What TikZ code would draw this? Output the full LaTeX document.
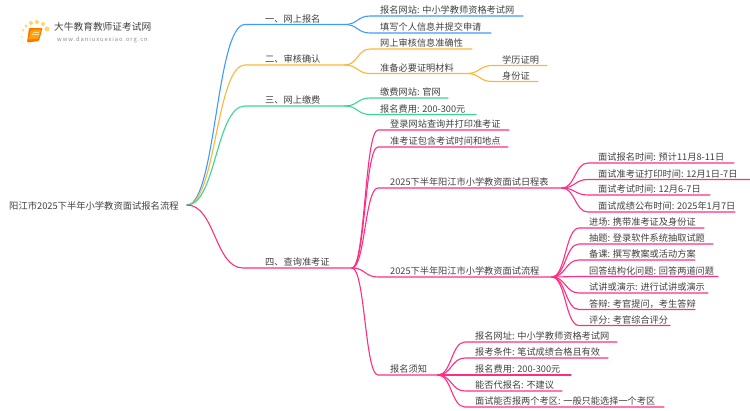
\documentclass[tikz,border=0pt]{standalone}
\usepackage{fontspec}
\setmainfont{Noto Sans CJK SC}
\usetikzlibrary{calc}
\definecolor{cblue}{HTML}{3D9BFF}
\definecolor{corange}{HTML}{FFB535}
\definecolor{cgreen}{HTML}{3CD690}
\definecolor{cpink}{HTML}{FF2E82}
\definecolor{ctext}{HTML}{404040}
\definecolor{cdot}{HTML}{FFD469}
\tikzset{
  lbl/.style={anchor=base west,inner sep=0pt,text=ctext,font=\fontsize{9.2}{11}\selectfont},
  conn/.style={line width=1.1pt,line cap=round},
  dotmark/.style={fill=cdot,draw=none}
}
% name, parent, colour, x curve end, x line end, y line, x text, text
\newcommand{\bran}[8]{%
  \coordinate (#1-in) at (#4,#6);
  \coordinate (#1-out) at (#5,#6);
  \coordinate (#1-mid) at ($(#2-out)!.5!(#1-in)$);
  \node[lbl,yshift=2.5pt] (#1) at (#7,#6) {#8};
  \draw[conn,#3] (#2-out) .. controls (#2-out -| #1-mid) and (#1-in -| #1-mid) .. (#1-in) -- (#1-out);
}
\begin{document}
\begin{tikzpicture}[x=1pt,y=-1pt]
\useasboundingbox (0,0) rectangle (750,410);
\clip (0,0) rectangle (750,410);
% logo
\foreach \px/\py/\pr/\po in {47/29/2.4/1,43/24/2/1,37/22/2/1,31/23/2/1,26/26/1.7/.9,23/30/1.5/.8,22/37/1.2/.6,23/42/1/.35}
  \fill[dotmark,opacity=\po] (\px,\py) circle (\pr);
\fill[orange!90!red,rounded corners=1pt] (29,28) -- (42.5,28) -- (39,41) -- (27,42.5) -- cycle;
\fill[orange!70!yellow] (31,29.5) -- (41,29.5) -- (38.5,38.5) -- (28.5,39.5) -- cycle;
\draw[white,opacity=.6,line width=.5pt] (32.5,32) -- (39,32) (32,34.5) -- (38.5,34.5);
\node[anchor=base west,inner sep=0pt,text=ctext,font=\fontsize{9.7}{12}\selectfont] (brand) at (54,30.5) {大牛教育教师证考试网};
\node[anchor=base west,inner sep=0pt,text=black!45,font=\fontsize{5.8}{7}\selectfont] (url) at (57,41.3) {\addfontfeature{LetterSpace=16}www.daniuxuexiao.org.cn};
% root
\node[lbl,font=\fontsize{9.3}{11}\selectfont] (root) at (9,209) {阳江市2025下半年小学教资面试报名流程};
\coordinate (root-out) at (187,205);
% level 1
\bran{a}{root}{cblue}{245}{345}{24.5}{265}{一、网上报名}
\bran{b}{root}{corange}{245}{345}{65}{265}{二、审核确认}
\bran{c}{root}{cgreen}{245}{345}{106}{265}{三、网上缴费}
\bran{d}{root}{cpink}{243}{352}{268}{265}{四、查询准考证}
% branch a
\bran{a1}{a}{cblue}{370}{523}{16}{380}{报名网站: 中小学教师资格考试网}
\bran{a2}{a}{cblue}{370}{491}{33}{380}{填写个人信息并提交申请}
% branch b
\bran{b1}{b}{corange}{370}{472}{49}{380}{网上审核信息准确性}
\bran{b2}{b}{corange}{370}{467}{73.5}{380}{准备必要证明材料}
\bran{b21}{b2}{corange}{492}{547}{65.5}{502}{学历证明}
\bran{b22}{b2}{corange}{492}{538}{81.5}{502}{身份证}
% branch c
\bran{c1}{c}{cgreen}{370}{448}{98}{380}{缴费网站: 官网}
\bran{c2}{c}{cgreen}{370}{476}{114.5}{380}{报名费用: 200-300元}
% branch d
\bran{d1}{d}{cpink}{378}{509}{130}{390}{登录网站查询并打印准考证}
\bran{d2}{d}{cpink}{378}{508}{147}{390}{准考证包含考试时间和地点}
\bran{d3}{d}{cpink}{378}{562}{188}{390}{2025下半年阳江市小学教资面试日程表}
\bran{d4}{d}{cpink}{378}{552}{277}{390}{2025下半年阳江市小学教资面试流程}
\bran{d5}{d}{cpink}{378}{438}{375}{390}{报名须知}
% schedule
\bran{e1}{d3}{cpink}{588}{734}{163}{598}{面试报名时间: 预计11月8-11日}
\bran{e2}{d3}{cpink}{588}{750}{179.5}{598}{面试准考证打印时间: 12月1日-7日}
\bran{e3}{d3}{cpink}{588}{710}{195}{598}{面试考试时间: 12月6-7日}
\bran{e4}{d3}{cpink}{588}{735}{212}{598}{面试成绩公布时间: 2025年1月7日}
% process
\bran{f1}{d4}{cpink}{579}{704}{228}{589}{进场: 携带准考证及身份证}
\bran{f2}{d4}{cpink}{579}{713}{244}{589}{抽题: 登录软件系统抽取试题}
\bran{f3}{d4}{cpink}{579}{695}{260}{589}{备课: 撰写教案或活动方案}
\bran{f4}{d4}{cpink}{579}{718}{276.5}{589}{回答结构化问题: 回答两道问题}
\bran{f5}{d4}{cpink}{579}{708}{293}{589}{试讲或演示: 进行试讲或演示}
\bran{f6}{d4}{cpink}{579}{695}{309.5}{589}{答辩: 考官提问，考生答辩}
\bran{f7}{d4}{cpink}{579}{670}{325.5}{589}{评分: 考官综合评分}
% notes
\bran{g1}{d5}{cpink}{465}{617}{342}{475}{报名网址: 中小学教师资格考试网}
\bran{g2}{d5}{cpink}{465}{608}{358}{475}{报考条件: 笔试成绩合格且有效}
\bran{g3}{d5}{cpink}{465}{571}{375}{475}{报名费用: 200-300元}
\bran{g4}{d5}{cpink}{465}{562}{391}{475}{能否代报名: 不建议}
\bran{g5}{d5}{cpink}{465}{664}{407}{475}{面试能否报两个考区: 一般只能选择一个考区}
\end{tikzpicture}
\end{document}
